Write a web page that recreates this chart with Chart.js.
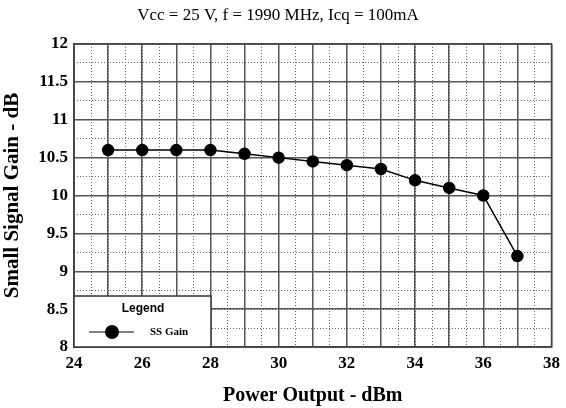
<!DOCTYPE html>
<html><head><meta charset="utf-8">
<script src="https://cdn.jsdelivr.net/npm/chart.js@4/dist/chart.umd.min.js"></script>
<style>html,body{margin:0;padding:0;background:#fff}#wrap{width:566px;height:408px}</style>
</head><body><div id="wrap"><canvas id="c" width="566" height="408"></canvas></div>
<script>
const powerOutput = [25, 26, 27, 28, 29, 30, 31, 32, 33, 34, 35, 36, 37];
const ssGain = [10.6, 10.6, 10.6, 10.6, 10.55, 10.5, 10.45, 10.4, 10.35, 10.2, 10.1, 10.0, 9.2];
const seriesName = 'SS Gain';
const chartTitle = 'Vcc = 25 V, f = 1990 MHz, Icq = 100mA';
const xTitle = 'Power Output - dBm';
const yTitle = 'Small Signal Gain - dB';
const legendTitle = 'Legend';

const SERIF = '"Liberation Serif", "Times New Roman", serif';
const SANS = '"Liberation Sans", Arial, sans-serif';

const legendPlugin = {
  id: 'boxLegend',
  afterDraw(chart) {
    const ctx = chart.ctx, a = chart.chartArea;
    const l = a.left, b = a.bottom, w = 137, h = 51, t = b - h;
    ctx.save();
    ctx.fillStyle = '#fff';
    ctx.fillRect(l, t, w, h);
    ctx.strokeStyle = '#333';
    ctx.lineWidth = 1.5;
    ctx.strokeRect(l, t, w, h);
    ctx.fillStyle = '#000';
    ctx.font = 'bold 12px ' + SANS;
    ctx.textAlign = 'center';
    ctx.textBaseline = 'middle';
    ctx.fillText(legendTitle, l + 69, t + 13);
    ctx.beginPath();
    ctx.moveTo(l + 15, t + 36); ctx.lineTo(l + 60, t + 36);
    ctx.lineWidth = 1.2; ctx.strokeStyle = '#000'; ctx.stroke();
    ctx.beginPath(); ctx.arc(l + 38, t + 36, 7, 0, Math.PI * 2); ctx.fill();
    ctx.font = 'bold 11px ' + SERIF;
    ctx.textAlign = 'left';
    ctx.fillText(seriesName, l + 76, t + 36);
    ctx.restore();
  }
};

new Chart(document.getElementById('c'), {
  type: 'line',
  data: {
    datasets: [{
      label: seriesName,
      data: powerOutput.map((x, i) => ({x: x, y: ssGain[i]})),
      borderColor: '#000', backgroundColor: '#000',
      borderWidth: 1.5, pointRadius: 5.5, pointHoverRadius: 5.5,
      pointBackgroundColor: '#000', pointBorderColor: '#000', tension: 0
    }]
  },
  options: {
    responsive: false, animation: false, devicePixelRatio: 1,
    layout: {padding: {left: 0, right: 10, top: 0, bottom: 0}},
    plugins: {
      legend: {display: false}, tooltip: {enabled: false},
      title: {display: true, text: chartTitle, color: '#000',
        font: {family: SERIF, size: 17, weight: 'normal'}, padding: {top: 5, bottom: 18.6}}
    },
    scales: {
      x2: {type: 'linear', min: 24, max: 38, position: 'bottom',
        ticks: {display: false, stepSize: 0.5},
        grid: {color: '#666', lineWidth: 1, drawTicks: false},
        border: {display: false, dash: [1, 2]},
        afterFit(s) { s.height = 0; }
      },
      y2: {type: 'linear', min: 8, max: 12, position: 'left',
        ticks: {display: false, stepSize: 0.25},
        grid: {color: '#666', lineWidth: 1, drawTicks: false},
        border: {display: false, dash: [1, 2]},
        afterFit(s) { s.width = 0; }
      },
      x: {type: 'linear', min: 24, max: 38, position: 'bottom',
        ticks: {stepSize: 2, color: '#000', padding: 6, font: {family: SERIF, size: 17, weight: 'bold'}},
        grid: {color: '#555', lineWidth: 1.5, drawTicks: false},
        afterBuildTicks(s) { s.ticks = []; for (let v = 24; v <= 38; v++) s.ticks.push({value: v}); },
        afterTickToLabelConversion(s) { s.ticks.forEach(t => { t.label = (t.value % 2 === 0) ? String(t.value) : ''; }); },
        border: {display: true, color: '#444', width: 1.5},
        title: {display: true, text: xTitle, color: '#000', padding: {top: 2, bottom: 0},
          font: {family: SERIF, size: 20, weight: 'bold'}},
        afterFit(s) { s.height = 61; }
      },
      y: {type: 'linear', min: 8, max: 12, position: 'left',
        ticks: {stepSize: 0.5, color: '#000', padding: 6, font: {family: SERIF, size: 17, weight: 'bold'},
          callback: v => String(Math.round(v * 100) / 100)},
        grid: {color: '#555', lineWidth: 1.5, drawTicks: false},
        border: {display: true, color: '#444', width: 1.5},
        title: {display: true, text: yTitle, color: '#000', padding: {top: 0, bottom: 4},
          font: {family: SERIF, size: 21, weight: 'bold'}},
        afterFit(s) { s.width = 74; }
      }
    }
  },
  plugins: [legendPlugin, {
    id: 'frame',
    afterDatasetsDraw(chart) {
      const a = chart.chartArea, ctx = chart.ctx;
      ctx.save(); ctx.strokeStyle = '#444'; ctx.lineWidth = 1.5;
      ctx.strokeRect(a.left, a.top, a.right - a.left, a.bottom - a.top);
      ctx.restore();
    }
  }]
});
</script></body></html>
